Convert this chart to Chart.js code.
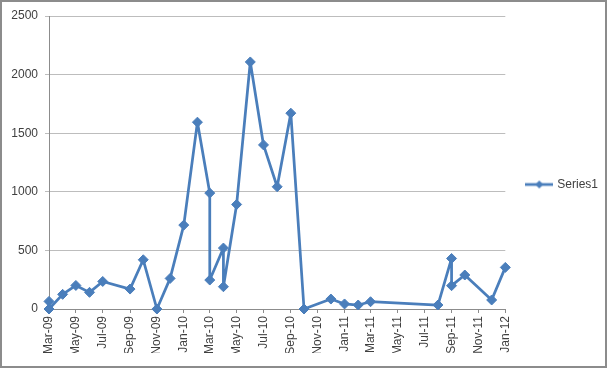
<!DOCTYPE html>
<html>
<head>
<meta charset="utf-8">
<script src="https://cdn.jsdelivr.net/npm/chart.js@4.4.0/dist/chart.umd.min.js"></script>
<style>
  html, body { margin: 0; padding: 0; background: #ffffff; }
  #wrap { position: relative; width: 608px; height: 369px; }
  #frame { position: absolute; left: 0; top: 0; width: 603px; height: 364px; border: 2px solid #8c8c8c; pointer-events: none; }
</style>
</head>
<body>
<div id="wrap">
  <canvas id="c" width="608" height="369"></canvas>
  <div id="frame"></div>
</div>
<script>
const seriesName = 'Series1';
const dates = [
  '2009-03-01','2009-03-01','2009-04-01','2009-05-01','2009-06-01','2009-07-01',
  '2009-09-01','2009-10-01','2009-11-01','2009-12-01','2010-01-01','2010-02-01',
  '2010-03-01','2010-03-01','2010-04-01','2010-04-01','2010-05-01','2010-06-01',
  '2010-07-01','2010-08-01','2010-09-01','2010-10-01','2010-12-01','2011-01-01',
  '2011-02-01','2011-03-01','2011-08-01','2011-09-01','2011-09-01','2011-10-01',
  '2011-12-01','2012-01-01'
];
const values = [
  65, 0, 125, 201, 142, 235,
  170, 420, 0, 261, 716, 1594,
  989, 247, 520, 190, 892, 2108,
  1400, 1043, 1671, 0, 85, 43,
  34, 62, 34, 431, 199, 290,
  77, 355
];
const tickDates = [
  '2009-03-01','2009-05-01','2009-07-01','2009-09-01','2009-11-01',
  '2010-01-01','2010-03-01','2010-05-01','2010-07-01','2010-09-01','2010-11-01',
  '2011-01-01','2011-03-01','2011-05-01','2011-07-01','2011-09-01','2011-11-01',
  '2012-01-01'
];
const tickLabels = [
  'Mar-09','May-09','Jul-09','Sep-09','Nov-09',
  'Jan-10','Mar-10','May-10','Jul-10','Sep-10','Nov-10',
  'Jan-11','Mar-11','May-11','Jul-11','Sep-11','Nov-11',
  'Jan-12'
];
const yTickValues = [0, 500, 1000, 1500, 2000, 2500];
const yTickLabels = ['0', '500', '1000', '1500', '2000', '2500'];

const BASE = Date.UTC(2009, 2, 1);
function dayIndex(s) {
  const p = s.split('-').map(Number);
  return (Date.UTC(p[0], p[1] - 1, p[2]) - BASE) / 86400000;
}

const lineColor = '#4a7ebb';
const textColor = '#404040';
const gridColor = '#bdbdbd';
const axisColor = '#8c8c8c';
const FONT = { family: "'Liberation Sans', Arial, sans-serif", size: 12 };

// legend icon: short line with diamond
const icon = document.createElement('canvas');
icon.width = 28; icon.height = 10;
(function () {
  const g = icon.getContext('2d');
  g.strokeStyle = lineColor; g.lineWidth = 2.75;
  g.beginPath(); g.moveTo(0, 5); g.lineTo(28, 5); g.stroke();
  g.fillStyle = lineColor;
  g.beginPath(); g.moveTo(14, 1); g.lineTo(18, 5); g.lineTo(14, 9); g.lineTo(10, 5); g.closePath(); g.fill();
})();

new Chart(document.getElementById('c'), {
  type: 'line',
  data: {
    datasets: [{
      label: seriesName,
      data: dates.map((d, i) => ({ x: dayIndex(d), y: values[i] })),
      borderColor: lineColor,
      backgroundColor: lineColor,
      borderWidth: 2.75,
      borderJoinStyle: 'round',
      borderCapStyle: 'round',
      pointStyle: 'rectRot',
      pointRadius: 5,
      pointBorderWidth: 1,
      pointBackgroundColor: lineColor,
      pointBorderColor: lineColor,
      tension: 0,
      fill: false,
      clip: false
    }]
  },
  options: {
    responsive: false,
    animation: false,
    devicePixelRatio: 1,
    layout: { padding: { top: 16, bottom: 16, left: 0, right: 0 } },
    plugins: {
      tooltip: { enabled: false },
      legend: {
        position: 'right',
        labels: {
          usePointStyle: true,
          pointStyle: icon,
          pointStyleWidth: 24,
          padding: 22,
          color: textColor,
          font: FONT
        }
      }
    },
    scales: {
      x: {
        type: 'linear',
        min: dayIndex(tickDates[0]),
        max: dayIndex(tickDates[tickDates.length - 1]),
        afterBuildTicks: (s) => { s.ticks = tickDates.map(d => ({ value: dayIndex(d) })); },
        afterFit: (s) => { s.height = 44; },
        grid: { drawOnChartArea: false, drawTicks: true, tickLength: 4, color: axisColor },
        border: { color: axisColor, width: 1 },
        ticks: {
          autoSkip: false, minRotation: 90, maxRotation: 90, padding: 3,
          color: textColor, font: FONT,
          callback: (v, i) => tickLabels[i]
        }
      },
      y: {
        min: yTickValues[0],
        max: yTickValues[yTickValues.length - 1],
        afterBuildTicks: (s) => { s.ticks = yTickValues.map(v => ({ value: v })); },
        afterFit: (s) => { s.width = 49; },
        grid: { color: gridColor, tickLength: 4, drawTicks: true },
        border: { color: axisColor, width: 1 },
        ticks: { padding: 7, color: textColor, font: FONT, callback: (v, i) => yTickLabels[i] }
      }
    }
  }
});
</script>
</body>
</html>
